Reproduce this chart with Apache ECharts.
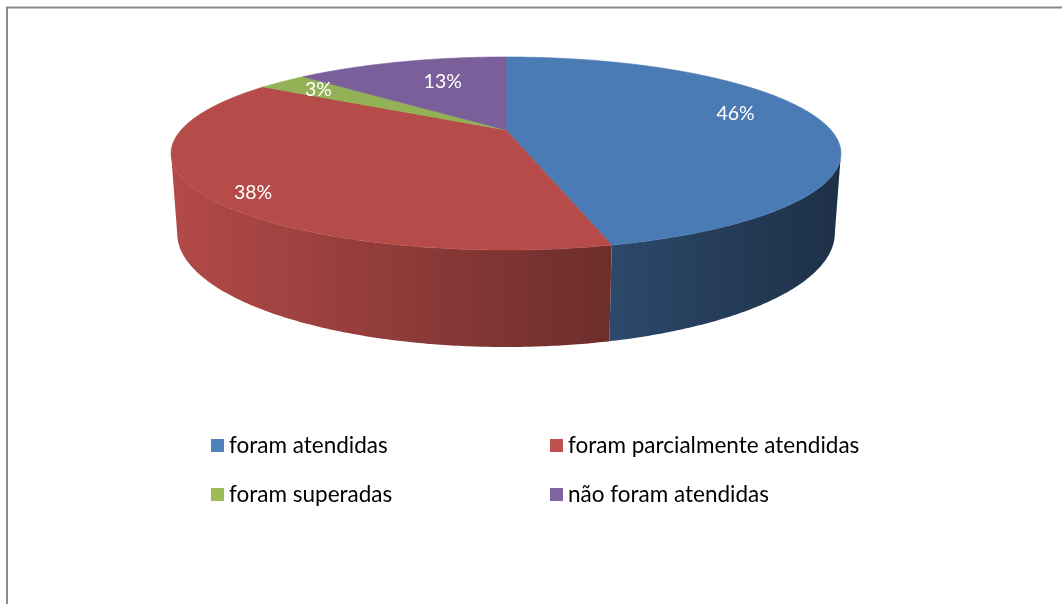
<!DOCTYPE html>
<html>
<head>
<meta charset="utf-8">
<script src="https://cdn.jsdelivr.net/npm/echarts@6/dist/echarts.min.js"></script>
<style>
  html, body { margin: 0; padding: 0; background: #ffffff; }
  #chart { width: 1062px; height: 604px; }
</style>
</head>
<body>
<div id="chart"></div>
<script>
// Survey answers and their shares (percent)
const categories = ['foram atendidas', 'foram parcialmente atendidas', 'foram superadas', 'não foram atendidas'];
const values = [46, 38, 3, 13];
const sliceColors = ['#4f81bd', '#c0504d', '#9bbb59', '#8064a2'];

// Perspective camera for the tilted disc (unit radius)
const VIEW = { cx: 506, cy: 130, focal: 1281, dist: 3.943, sinT: 0.2795, cosT: 0.960, thick: 0.2475, halfW: 335 };
// Where each percentage label sits: [radius fraction, position inside the slice]
const labelPlace = [[0.76, 0.46], [0.89, 0.46], [0.82, 0.5], [0.65, 0.57]];

const total = values.reduce((a, b) => a + b, 0);
const TAU = Math.PI * 2;

function project(r, phi, h) {
  const u = r * Math.sin(phi);
  const v = -r * Math.cos(phi);
  const zc = VIEW.dist + h * VIEW.sinT - v * VIEW.cosT;
  const yc = -h * VIEW.cosT - v * VIEW.sinT;
  return [VIEW.cx + VIEW.focal * u / zc, VIEW.cy - VIEW.focal * yc / zc];
}

function arc(p0, p1, h) {
  const n = Math.max(2, Math.ceil(Math.abs(p1 - p0) / (Math.PI / 360)));
  const pts = [];
  for (let k = 0; k <= n; k++) pts.push(project(1, p0 + (p1 - p0) * k / n, h));
  return pts;
}

function shade(hex, f) {
  const n = parseInt(hex.slice(1), 16);
  const c = [(n >> 16) & 255, (n >> 8) & 255, n & 255].map(x => Math.max(0, Math.min(255, Math.round(x * f))));
  return 'rgb(' + c.join(',') + ')';
}

// front-facing part of the rim
const rimFrom = Math.acos(-0.24);
const rimTo = TAU - rimFrom;

function sliceRenderer(i) {
  return function (params, api) {
    const start = values.slice(0, i).reduce((a, b) => a + b, 0) / total * TAU;
    const end = start + api.value(0) / total * TAU;
    const color = sliceColors[i];
    const children = [];

    const a = Math.max(start, rimFrom), b = Math.min(end, rimTo);
    if (a < b) {
      const wall = arc(a, b, 0).concat(arc(b, a, VIEW.thick));
      children.push({
        type: 'polygon',
        z2: 1,
        shape: { points: wall },
        style: {
          fill: {
            type: 'linear', global: true,
            x: VIEW.cx - VIEW.halfW, y: 0, x2: VIEW.cx + VIEW.halfW, y2: 0,
            colorStops: [{ offset: 0, color: shade(color, 0.93) }, { offset: 1, color: shade(color, 0.37) }]
          }
        }
      });
    }

    const top = [project(0, 0, 0)].concat(arc(start, end, 0));
    children.push({
      type: 'polygon',
      z2: 5,
      shape: { points: top },
      style: { fill: shade(color, 0.95), stroke: shade(color, 0.95), lineWidth: 0.6 }
    });

    const lp = labelPlace[i];
    const pos = project(lp[0], start + (end - start) * lp[1], 0);
    children.push({
      type: 'text',
      z2: 10,
      style: {
        text: Math.round(api.value(0) / total * 100) + '%',
        x: pos[0], y: pos[1],
        fill: '#ffffff',
        fontFamily: 'Lato', fontSize: 19.5,
        align: 'center', verticalAlign: 'middle'
      }
    });

    return { type: 'group', children: children };
  };
}

const chart = echarts.init(document.getElementById('chart'), null, { renderer: 'canvas' });

const legendBase = {
  orient: 'vertical',
  top: 429,
  icon: 'rect',
  itemWidth: 13,
  itemHeight: 13,
  itemGap: 26,
  selectedMode: false,
  textStyle: { fontFamily: 'Lato', fontSize: 22.5, color: '#000000', lineHeight: 22 }
};

chart.setOption({
  animation: false,
  backgroundColor: '#ffffff',
  graphic: [{
    type: 'rect',
    shape: { x: 7, y: 7.5, width: 1100, height: 700 },
    style: { fill: null, stroke: '#8a8a8a', lineWidth: 2 },
    silent: true
  }],
  legend: [
    Object.assign({}, legendBase, { left: 206, data: [categories[0], categories[2]] }),
    Object.assign({}, legendBase, { left: 545, data: [categories[1], categories[3]] })
  ],
  series: categories.map((name, i) => ({
    type: 'custom',
    name: name,
    coordinateSystem: 'none',
    silent: true,
    itemStyle: { color: sliceColors[i] },
    data: [[values[i]]],
    renderItem: sliceRenderer(i)
  }))
});
</script>
</body>
</html>
